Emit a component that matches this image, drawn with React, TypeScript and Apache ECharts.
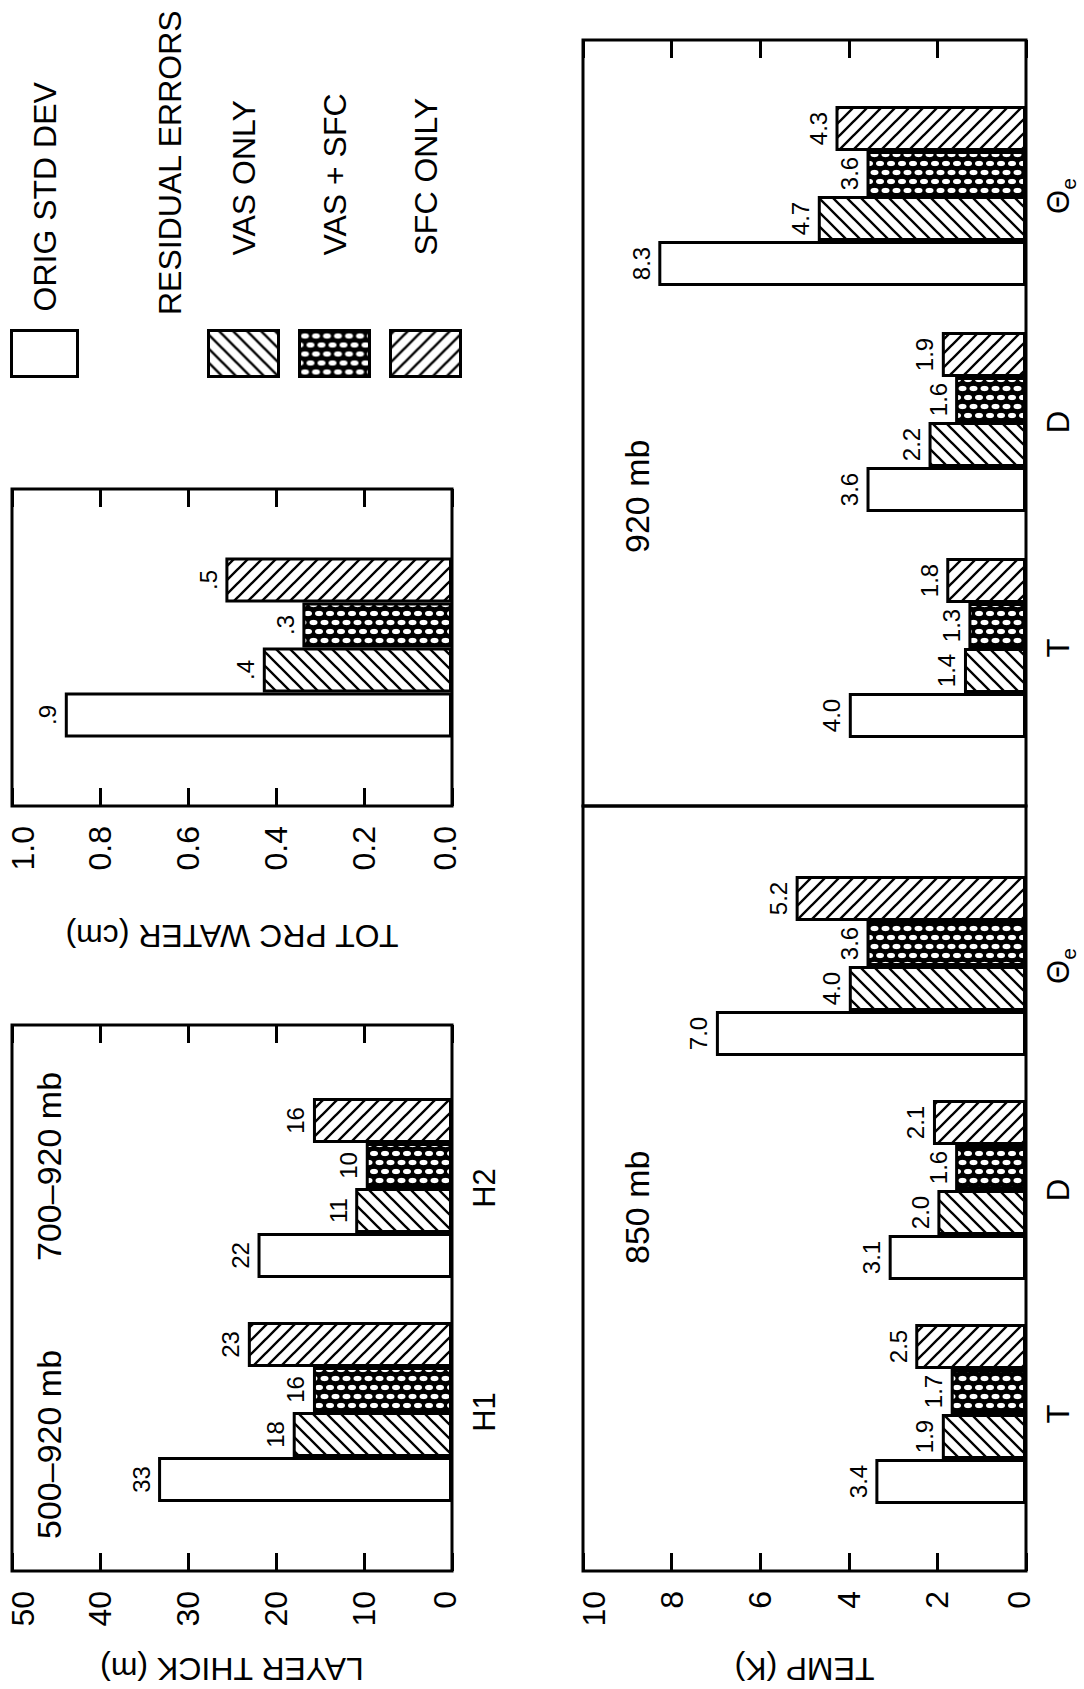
import React, { useEffect, useRef } from 'react';
import * as echarts from 'echarts';

// ---------- data ----------
const seriesNames = ['ORIG STD DEV', 'VAS ONLY', 'VAS + SFC', 'SFC ONLY'];

const layerCategories = ['H1', 'H2'];
const layerOrig = [33.4, 22.1];
const layerVas = [18.1, 11.0];
const layerVasSfc = [15.8, 9.8];
const layerSfc = [23.2, 15.8];

const waterCategories = [''];
const waterOrig = [0.88];
const waterVas = [0.43];
const waterVasSfc = [0.34];
const waterSfc = [0.515];

const tempCategories = ['T', 'D', 'Θe'];
const temp850Orig = [3.4, 3.1, 7.0];
const temp850Vas = [1.9, 2.0, 4.0];
const temp850VasSfc = [1.7, 1.6, 3.6];
const temp850Sfc = [2.5, 2.1, 5.2];

const temp920Orig = [4.0, 3.6, 8.3];
const temp920Vas = [1.4, 2.2, 4.7];
const temp920VasSfc = [1.3, 1.6, 3.6];
const temp920Sfc = [1.8, 1.9, 4.3];

const layerAxis = { min: 0, max: 50, interval: 10 };
const waterAxis = { min: 0, max: 1, interval: 0.2 };
const tempAxis = { min: 0, max: 10, interval: 2 };

const panelTitles = ['500–920 mb', '700–920 mb', '850 mb', '920 mb'];
const legendHeader = 'RESIDUAL ERRORS';

// ---------- styling ----------
const FONT = "'Liberation Sans', Arial, Helvetica, sans-serif";
const W = 1689;
const H = 1084;

function hatch(kind: 'fwd' | 'back') {
  const s = 14;
  const c = document.createElement('canvas');
  c.width = s;
  c.height = s;
  const g = c.getContext('2d')!;
  g.fillStyle = '#fff';
  g.fillRect(0, 0, s, s);
  g.strokeStyle = '#000';
  g.lineWidth = 2.3;
  g.beginPath();
  for (const o of [-s, 0, s]) {
    if (kind === 'fwd') {
      g.moveTo(o - 1, s + 1);
      g.lineTo(o + s + 1, -1);
    } else {
      g.moveTo(o - 1, -1);
      g.lineTo(o + s + 1, s + 1);
    }
  }
  g.stroke();
  return { image: c, repeat: 'repeat', imageWidth: s, imageHeight: s };
}

function cross() {
  const w = 18;
  const h = 11;
  const c = document.createElement('canvas');
  c.width = w;
  c.height = h;
  const g = c.getContext('2d')!;
  g.fillStyle = '#000';
  g.fillRect(0, 0, w, h);
  g.fillStyle = '#fff';
  const ov = (x: number, y: number) => {
    g.beginPath();
    g.ellipse(x, y, 2.6, 4.1, 0, 0, Math.PI * 2);
    g.fill();
  };
  ov(4.5, 5.5);
  ov(13.5, 0);
  ov(13.5, h);
  return { image: c, repeat: 'repeat', imageWidth: w, imageHeight: h };
}

function buildOption() {
  const fills: any[] = ['#fff', hatch('fwd'), cross(), hatch('back')];

  const tickStyle = { show: true, inside: true, length: 18, lineStyle: { width: 3, color: '#000' } };
  const txt = { color: '#000', fontFamily: FONT };

  const fmtInt = (v: number) => String(Math.round(v));
  const fmtWater = (v: number) => v.toFixed(1).replace(/^0/, '');
  const fmtTemp = (v: number) => v.toFixed(1);

  const bars = (datasets: number[][], axisIdx: number, fmt: (v: number) => string) =>
    datasets.map((d, i) => ({
      type: 'bar',
      name: seriesNames[i],
      data: d,
      xAxisIndex: axisIdx,
      yAxisIndex: axisIdx,
      barWidth: 45,
      barGap: '0%',
      silent: true,
      itemStyle: { color: fills[i], borderColor: '#000', borderWidth: 3 },
      label: {
        show: true,
        position: 'top',
        distance: 5,
        fontSize: 24,
        ...txt,
        formatter: (p: any) => fmt(p.value),
      },
    }));

  const leftValueAxis = (grid: number, rng: any, name: string, gap: number, fmt?: (v: number) => string) => ({
    type: 'value',
    gridIndex: grid,
    position: 'left',
    ...rng,
    axisLine: { show: false },
    axisTick: tickStyle,
    splitLine: { show: false },
    axisLabel: {
      margin: 20,
      formatter: (v: number) => {
        const s = fmt ? fmt(v) : String(v);
        if (v === rng.max) return '{hi|' + s + '}';
        if (v === rng.min) return '{lo|' + s + '}';
        return '{n|' + s + '}';
      },
      rich: {
        n: { fontSize: 32, ...txt },
        hi: { fontSize: 32, ...txt, padding: [22, 0, 0, 0] },
        lo: { fontSize: 32, ...txt, padding: [0, 0, 14, 0] },
      },
    },
    name,
    nameLocation: 'middle',
    nameGap: gap,
    nameTextStyle: { fontSize: 32, ...txt },
  });
  const rightTickAxis = (grid: number, rng: any) => ({
    type: 'value',
    gridIndex: grid,
    position: 'right',
    ...rng,
    axisLine: { show: false },
    axisTick: tickStyle,
    splitLine: { show: false },
    axisLabel: { show: false },
  });
  const hiddenValue = (grid: number, rng: any) => ({ type: 'value', gridIndex: grid, ...rng, show: false });
  const hiddenCat = (grid: number) => ({ type: 'category', gridIndex: grid, show: false, data: [] as string[] });
  const catAxis = (grid: number, data: string[]) => ({
    type: 'category',
    gridIndex: grid,
    data,
    axisLine: { show: false },
    axisTick: { show: false },
    axisLabel: {
      margin: 17,
      formatter: (v: string) => (v === 'Θe' ? '{a|Θ}{b|e}' : '{a|' + v + '}'),
      rich: {
        a: { fontSize: 31, lineHeight: 31, verticalAlign: 'top', ...txt },
        b: { fontSize: 21, lineHeight: 21, padding: [20, 0, 0, 0], ...txt },
      },
    },
  });

  const frame = { show: true, borderColor: '#000', borderWidth: 3, backgroundColor: 'transparent' };
  const titleStyle = (text: string) => ({ text, fontSize: 34, fontFamily: FONT, fill: '#000' });

  return {
    animation: false,
    backgroundColor: '#fff',
    textStyle: { fontFamily: FONT, color: '#000' },
    grid: [
      { left: 118, top: 12, width: 546, height: 440, ...frame }, // 0 layer frame
      { left: 165, top: 12, width: 448, height: 440, show: false }, // 1 layer data
      { left: 883, top: 12, width: 317, height: 440, ...frame }, // 2 water
      { left: 118, top: 583, width: 765, height: 443, ...frame }, // 3 850 frame
      { left: 883, top: 583, width: 766, height: 443, ...frame }, // 4 920 frame
      { left: 163, top: 583, width: 672, height: 443, show: false }, // 5 850 data
      { left: 928, top: 583, width: 678, height: 443, show: false }, // 6 920 data
    ],
    xAxis: [
      hiddenCat(0),
      catAxis(1, layerCategories),
      { type: 'category', gridIndex: 2, data: waterCategories, show: false },
      hiddenCat(3),
      hiddenCat(4),
      catAxis(5, tempCategories),
      catAxis(6, tempCategories),
    ],
    yAxis: [
      hiddenValue(0, layerAxis),
      hiddenValue(1, layerAxis),
      leftValueAxis(2, waterAxis, 'TOT PRC WATER (cm)', 114, (v: number) => v.toFixed(1)),
      leftValueAxis(3, tempAxis, 'TEMP (K)', 82),
      rightTickAxis(4, tempAxis),
      hiddenValue(5, tempAxis),
      hiddenValue(6, tempAxis),
      leftValueAxis(0, layerAxis, 'LAYER THICK (m)', 82),
      rightTickAxis(0, layerAxis),
      rightTickAxis(2, waterAxis),
    ],
    legend: [
      {
        data: [seriesNames[0]],
        orient: 'vertical',
        left: 1311,
        top: 10,
        padding: 0,
        itemWidth: 46,
        itemHeight: 66,
        icon: 'rect',
        selectedMode: false,
        itemStyle: { borderColor: '#000', borderWidth: 3 },
        textStyle: { fontSize: 32, ...txt, padding: [0, 0, 0, 14] },
      },
      {
        data: seriesNames.slice(1),
        orient: 'vertical',
        left: 1311,
        top: 207,
        padding: 0,
        itemWidth: 46,
        itemHeight: 70,
        itemGap: 18,
        icon: 'rect',
        selectedMode: false,
        itemStyle: { borderColor: '#000', borderWidth: 3 },
        textStyle: { fontSize: 32, ...txt, padding: [0, 0, 0, 70] },
      },
    ],
    graphic: [
      { type: 'text', left: 150, top: 32, silent: true, style: titleStyle(panelTitles[0]) },
      { type: 'text', left: 428, top: 32, silent: true, style: titleStyle(panelTitles[1]) },
      { type: 'text', left: 425, top: 620, silent: true, style: titleStyle(panelTitles[2]) },
      { type: 'text', left: 1136, top: 620, silent: true, style: titleStyle(panelTitles[3]) },
      { type: 'text', left: 1374, top: 154, silent: true, style: { text: legendHeader, fontSize: 32, fontFamily: FONT, fill: '#000' } },
    ],
    series: [
      ...bars([layerOrig, layerVas, layerVasSfc, layerSfc], 1, fmtInt),
      ...bars([waterOrig, waterVas, waterVasSfc, waterSfc], 2, fmtWater),
      ...bars([temp850Orig, temp850Vas, temp850VasSfc, temp850Sfc], 5, fmtTemp),
      ...bars([temp920Orig, temp920Vas, temp920VasSfc, temp920Sfc], 6, fmtTemp),
    ],
  };
}

export default function App() {
  const ref = useRef<HTMLDivElement>(null);
  useEffect(() => {
    if (!ref.current) return;
    const chart = echarts.init(ref.current, null, { renderer: 'svg', width: W, height: H });
    chart.setOption(buildOption() as any);
    return () => chart.dispose();
  }, []);
  return (
    <div
      style={{
        position: 'absolute',
        left: 0,
        top: 0,
        width: H,
        height: W,
        overflow: 'hidden',
        background: '#fff',
      }}
    >
      <div
        ref={ref}
        style={{
          position: 'absolute',
          left: 0,
          top: W,
          width: W,
          height: H,
          transform: 'rotate(-90deg)',
          transformOrigin: '0 0',
        }}
      />
    </div>
  );
}
